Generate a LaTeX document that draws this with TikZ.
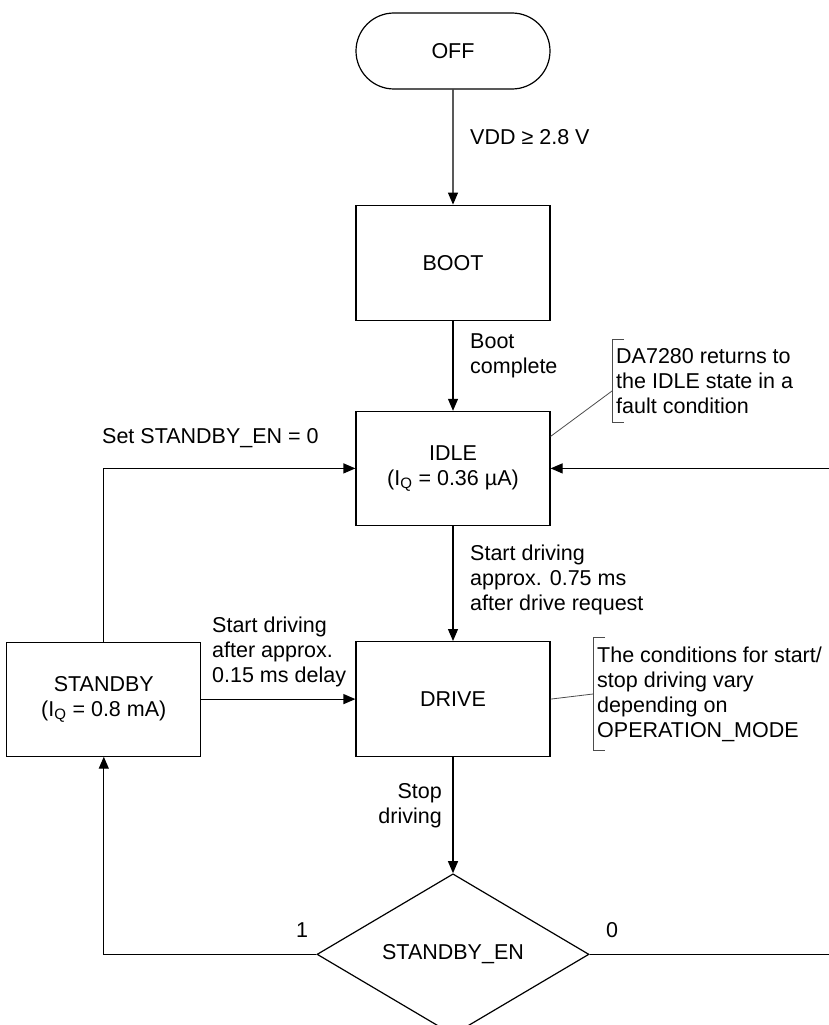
\documentclass[tikz,border=0pt]{standalone}
\usepackage{fontspec}
\setmainfont{Liberation Sans}
\usetikzlibrary{arrows.meta,positioning,shapes.geometric,shapes.misc}

\newcommand{\chartfont}{\fontsize{21.5}{25}\selectfont}

\begin{document}
\begin{tikzpicture}[
  x=1pt, y=-1pt,
  state/.style={draw=black, line width=1.2pt, minimum width=194pt, minimum height=115pt, inner sep=0pt, font=\chartfont, align=center},
  term/.style={draw=black, line width=1.2pt, rounded rectangle, minimum width=194pt, minimum height=76pt, inner sep=0pt, font=\chartfont},
  decision/.style={draw=black, line width=1.2pt, diamond, minimum width=272pt, minimum height=160pt, inner sep=0pt, font=\chartfont},
  lbl/.style={inner sep=0pt, font=\chartfont, align=left},
  note/.style={inner xsep=4pt, inner ysep=8.5pt, font=\chartfont, align=left},
  arrow/.style={-{Triangle[length=12pt,width=10pt]}, line width=1.2pt, black},
  bracket/.style={line width=0.8pt, black!70}
]
\useasboundingbox (0,0) rectangle (829,1025);

\node[term] (off) at (453,51) {OFF};
\node[state, below=115pt of off] (boot) {BOOT};
\node[state, below=90pt of boot, minimum height=114pt] (idle) {IDLE\\(I\textsubscript{Q} = 0.36 µA)};
\node[state, below=115pt of idle] (drive) {DRIVE};
\node[state, left=154pt of drive, minimum height=114pt] (standby) {STANDBY\\(I\textsubscript{Q} = 0.8 mA)};
\node[decision, below=116pt of drive] (dec) {STANDBY\_EN};

\node[lbl, anchor=west] (vdd) at (470,137) {VDD ≥ 2.8 V};
\node[lbl, anchor=west] (bootdone) at (470,356) {Boot\\complete};
\node[lbl, anchor=west] (startidle) at (470,580) {Start driving\\approx. 0.75 ms\\after drive request};
\node[lbl, anchor=east, align=right] (stop) at (442,806) {Stop\\driving};
\node[lbl, anchor=west] (setsb) at (102,438) {Set STANDBY\_EN = 0};
\node[lbl, anchor=west] (startsb) at (212,652) {Start driving\\after approx.\\0.15 ms delay};
\node[lbl] (one) at (302,930) {1};
\node[lbl] (zero) at (612,930) {0};

\node[note, anchor=west] (fault) at (612,381) {DA7280 returns to\\the IDLE state in a\\fault condition};
\node[note, anchor=west] (modes) at (593,694) {The conditions for start/\\stop driving vary\\depending on\\OPERATION\_MODE};

\coordinate (loopr) at (845,0);

\draw[arrow] (off) -- (boot);
\draw[arrow] (boot) -- (idle);
\draw[arrow] (idle) -- (drive);
\draw[arrow] (drive) -- (dec);
\draw[arrow] (standby.east) -- (drive.west);
\draw[arrow] (standby.north) |- (idle.west);
\draw[arrow] (dec.west) -| (standby.south);
\draw[arrow] (dec.east) -- (dec.east -| loopr) |- (idle.east);

\draw[bracket] ([xshift=12pt]fault.north west) -- (fault.north west) -- (fault.south west) -- ([xshift=12pt]fault.south west);
\draw[bracket] ([xshift=12pt]modes.north west) -- (modes.north west) -- (modes.south west) -- ([xshift=12pt]modes.south west);
\draw[bracket] ([yshift=-10pt]fault.west) -- ([yshift=32pt]idle.east);
\draw[bracket] (drive.east) -- (modes.west);

\end{tikzpicture}
\end{document}
